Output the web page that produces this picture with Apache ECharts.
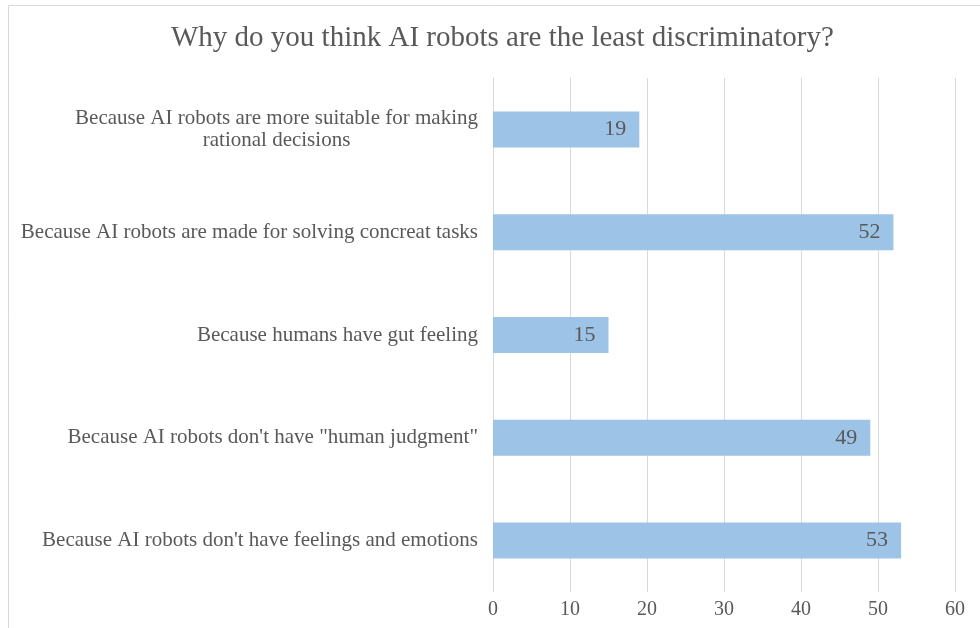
<!DOCTYPE html>
<html>
<head>
<meta charset="utf-8">
<script src="https://cdn.jsdelivr.net/npm/echarts@6/dist/echarts.min.js"></script>
<style>
  html, body { margin: 0; padding: 0; background: #fff; }
  #chart { width: 980px; height: 628px; }
</style>
</head>
<body>
<div id="chart"></div>
<script>
// Reasons given, listed top to bottom
const categories = [
  'Because AI robots are more suitable for making\nrational decisions',
  'Because AI robots are made for solving concreat tasks',
  'Because humans have gut feeling',
  'Because AI robots don\'t have "human judgment"',
  'Because AI robots don\'t have feelings and emotions'
];
const counts = [19, 52, 15, 49, 53];
const xTicks = [0, 10, 20, 30, 40, 50, 60];

const serif = '"Liberation Serif", "Times New Roman", serif';
const textColor = '#595959';

const chart = echarts.init(document.getElementById('chart'));
chart.setOption({
  backgroundColor: '#fff',
  animation: false,
  title: {
    text: 'Why do you think AI robots are the least discriminatory?',
    left: 166,
    top: 19,
    textStyle: { fontFamily: serif, fontSize: 29, fontWeight: 'normal', color: textColor }
  },
  graphic: [{
    type: 'rect',
    shape: { x: 8.5, y: 5.5, width: 1000, height: 700 },
    style: { fill: 'none', stroke: '#d9d9d9', lineWidth: 1 },
    silent: true
  }],
  grid: { left: 493, right: 25, top: 78, bottom: 36 },
  xAxis: {
    type: 'value',
    min: xTicks[0],
    max: xTicks[xTicks.length - 1],
    interval: xTicks[1] - xTicks[0],
    axisLine: { show: false },
    axisTick: { show: false },
    axisLabel: { fontFamily: serif, fontSize: 20, color: textColor, margin: 8 },
    splitLine: { show: true, lineStyle: { color: '#d9d9d9', width: 1 } }
  },
  yAxis: {
    type: 'category',
    data: categories,
    inverse: true,
    axisLine: { show: false },
    axisTick: { show: false },
    axisLabel: {
      margin: 15,
      formatter: function (v) {
        return v.split('\n').map(function (s) { return '{c|' + s + '}'; }).join('\n');
      },
      rich: {
        c: { fontFamily: serif, fontSize: 21, color: textColor, align: 'center', lineHeight: 22 }
      }
    }
  },
  series: [{
    type: 'bar',
    data: counts,
    barWidth: 36,
    itemStyle: { color: '#9DC3E6' },
    label: {
      show: true,
      position: 'insideRight',
      distance: 13,
      fontFamily: serif,
      fontSize: 22,
      color: textColor
    }
  }]
});
</script>
</body>
</html>
